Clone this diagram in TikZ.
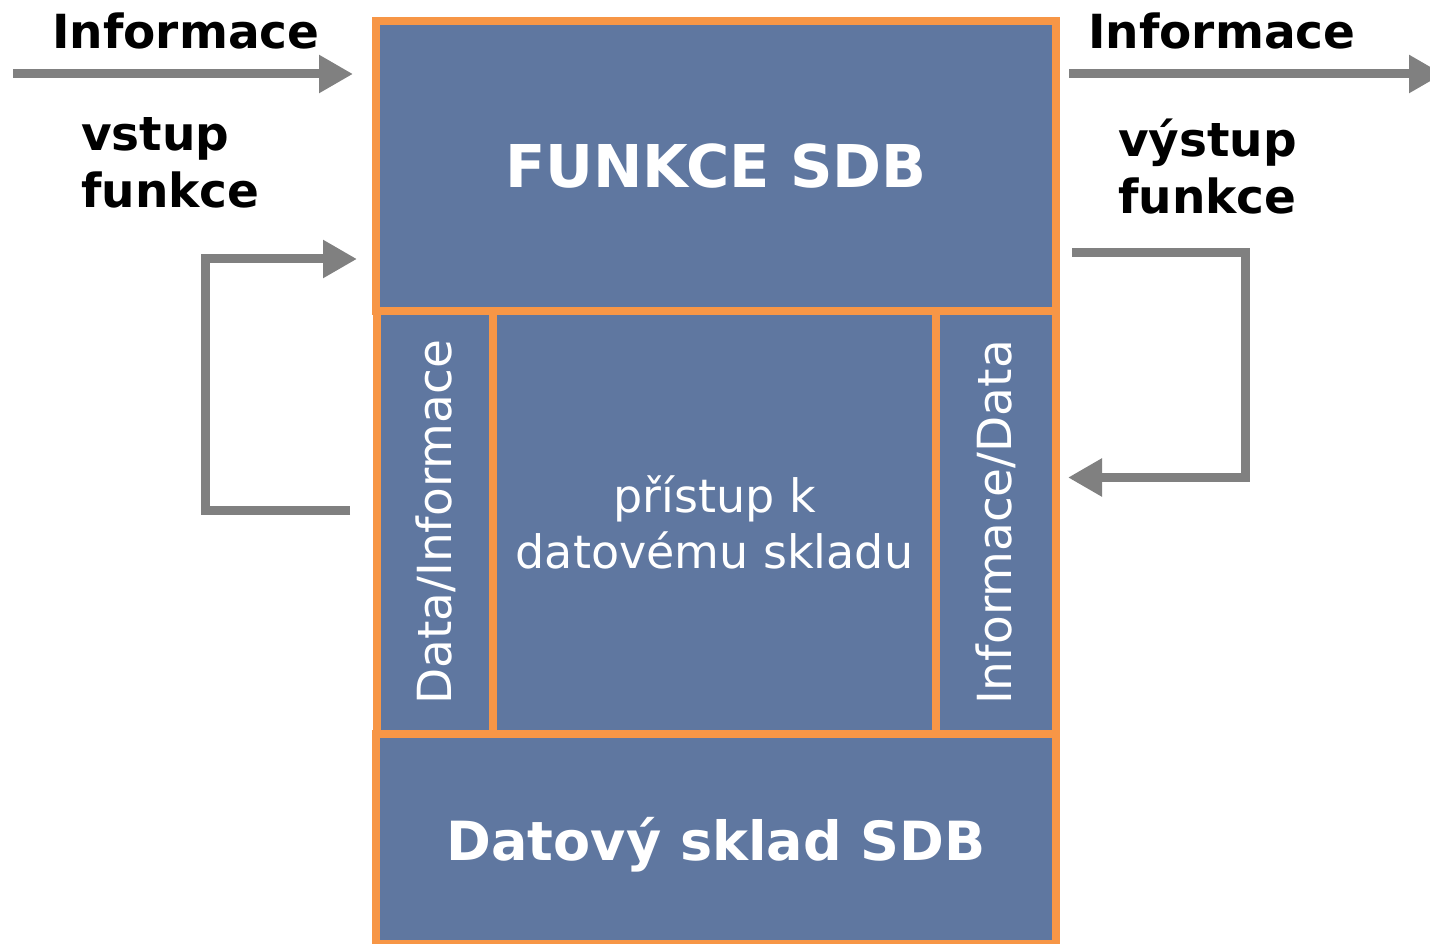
\documentclass[tikz,border=0pt]{standalone}
\usepackage{fontspec}
\setmainfont{DejaVu Sans}
\usetikzlibrary{arrows.meta}
\definecolor{cellblue}{RGB}{95,119,160}
\definecolor{cellorange}{RGB}{247,150,70}
\definecolor{arrgray}{RGB}{128,128,128}
\begin{document}
\begin{tikzpicture}[x=1pt,y=-1pt,
  cell/.style={draw=cellorange, fill=cellblue, line width=8.5pt, text=white, inner sep=0pt},
  lab/.style={font=\fontsize{47}{57}\selectfont\bfseries, text=black, inner sep=0pt, align=left},
  arr/.style={draw=arrgray, line width=9pt, line join=miter, -{Triangle[length=34pt,width=36pt]}}]
\fill[white] (0,0) rectangle (1430,944);
\useasboundingbox (0,0) rectangle (1430,944);

% cells
\node[cell, minimum width=680pt, minimum height=290pt,
      font=\fontsize{59}{70}\selectfont\bfseries] (func) at (716,166) {FUNKCE SDB};
\node[cell, rotate=90, minimum width=423pt, minimum height=117pt,
      font=\fontsize{47}{56}\selectfont] (din) at (435.5,522.5) {Data/Informace};
\node[cell, minimum width=443pt, minimum height=423pt, align=center,
      font=\fontsize{46}{56}\selectfont] (acc) at (714.5,522.5) {přístup k\\datovému skladu};
\node[cell, rotate=90, minimum width=423pt, minimum height=120pt,
      font=\fontsize{47}{56}\selectfont] (dout) at (996,522.5) {Informace/Data};
\node[cell, minimum width=680pt, minimum height=210pt, text depth=0pt,
      font=\fontsize{54}{64}\selectfont\bfseries] (store) at (716,839) {Datový sklad SDB};

% labels
\node[lab, anchor=base west] (infoL) at (52,49) {Informace};
\node[lab, anchor=west] (vin) at (81,162.5) {vstup\\funkce};
\node[lab, anchor=base west] (infoR) at (1088,49) {Informace};
\node[lab, anchor=west] (vout) at (1118,166.5) {výstup\\funkce};

% connectors
\coordinate (inS) at (13,74);
\coordinate (inE) at (353,74);
\draw[arr] (inS) -- (inE);
\coordinate (outS) at (1069,74);
\coordinate (outE) at (1443,74);
\draw[arr] (outS) -- (outE);
\coordinate (fbLs) at (350,510);
\coordinate (fbLe) at (357,259);
\draw[arr] (fbLs) -- ++(-145,0) |- (fbLe);
\coordinate (fbRs) at (1072,253);
\coordinate (fbRe) at (1068,477.5);
\draw[arr] (fbRs) -- ++(173,0) |- (fbRe);
\end{tikzpicture}
\end{document}
